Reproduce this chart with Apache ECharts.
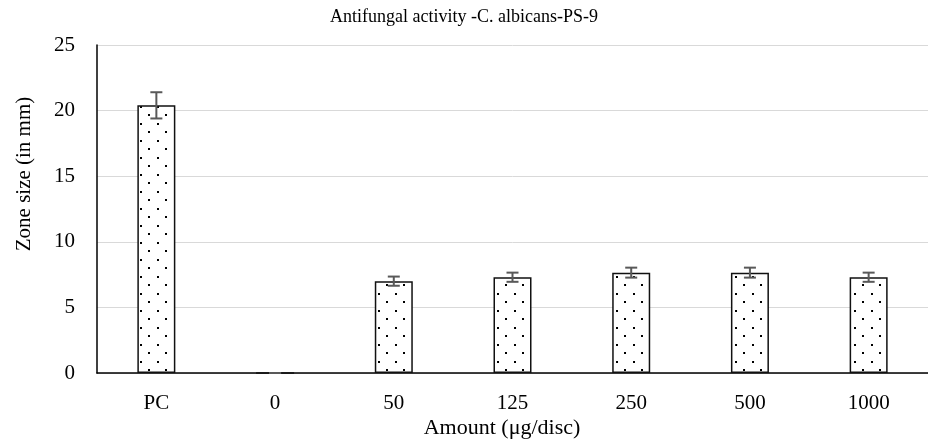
<!DOCTYPE html>
<html>
<head>
<meta charset="utf-8">
<script src="https://cdn.jsdelivr.net/npm/echarts@6/dist/echarts.min.js"></script>
<style>
html,body{margin:0;padding:0;background:#fff;}
#main{width:928px;height:443px;}
</style>
</head>
<body>
<div id="main"></div>
<script>
// 数据
var categories = ['PC', '0', '50', '125', '250', '500', '1000'];
var zoneSize = [20.4, 0, 7.0, 7.3, 7.65, 7.65, 7.3];
var errValue = [1.0, 0, 0.35, 0.35, 0.38, 0.38, 0.35];
var yTicks = [0, 5, 10, 15, 20, 25];

// 点状填充
function makeDots(){
	var c = document.createElement('canvas');
	c.width = 17; c.height = 17;
	var ctx = c.getContext('2d');
	ctx.fillStyle = '#fff';
	ctx.fillRect(0, 0, 17, 17);
	ctx.fillStyle = '#000';
	ctx.fillRect(4, 4, 2, 2);
	ctx.fillRect(12, 12, 2, 2);
	return c;
}

var errData = [];
for (var i = 0; i < categories.length; i++) {
	errData.push([i, zoneSize[i] - errValue[i], zoneSize[i] + errValue[i]]);
}

var myChart = echarts.init(document.getElementById('main'));
var font = '"Liberation Serif", "Times New Roman", serif';
var option = {
	animation: false,
	title: {
		text: 'Antifungal activity -C. albicans-PS-9',
		left: 'center',
		top: 3,
		textStyle: {fontFamily: font, fontSize: 18, fontWeight: 'normal', color: '#000'}
	},
	grid: {left: 97, right: -9, top: 45, bottom: 70},
	xAxis: {
		type: 'category',
		data: categories,
		axisLine: {lineStyle: {color: '#000', width: 1.5}},
		axisTick: {show: false},
		axisLabel: {fontFamily: font, fontSize: 21, color: '#000', margin: 20}
	},
	yAxis: {
		type: 'value',
		min: yTicks[0],
		max: yTicks[yTicks.length - 1],
		interval: 5,
		axisLine: {show: true, lineStyle: {color: '#000', width: 1.5}},
		axisTick: {show: false},
		axisLabel: {fontFamily: font, fontSize: 21, color: '#000', margin: 22},
		splitLine: {lineStyle: {color: '#d9d9d9', width: 1}}
	},
	graphic: [
		{
			type: 'text',
			x: 502,
			y: 428,
			style: {text: 'Amount (μg/disc)', font: '22px ' + font, fill: '#000', align: 'center', verticalAlign: 'middle'}
		},
		{
			type: 'text',
			x: 24,
			y: 174,
			rotation: Math.PI / 2,
			style: {text: 'Zone size (in mm)', font: '21px ' + font, fill: '#000', align: 'center', verticalAlign: 'middle'}
		}
	],
	series: [
		{
			type: 'bar',
			data: zoneSize,
			barWidth: 38,
			itemStyle: {
				color: {image: makeDots(), repeat: 'repeat'},
				borderColor: '#111',
				borderWidth: 1.5
			}
		},
		{
			type: 'custom',
			data: errData,
			z: 10,
			renderItem: function (params, api) {
				var lo = api.coord([api.value(0), api.value(1)]);
				var hi = api.coord([api.value(0), api.value(2)]);
				var hw = 6;
				var st = {stroke: '#595959', lineWidth: 2};
				return {
					type: 'group',
					children: [
						{type: 'line', shape: {x1: hi[0], y1: hi[1], x2: lo[0], y2: lo[1]}, style: st},
						{type: 'line', shape: {x1: hi[0] - hw, y1: hi[1], x2: hi[0] + hw, y2: hi[1]}, style: st},
						{type: 'line', shape: {x1: lo[0] - hw, y1: lo[1], x2: lo[0] + hw, y2: lo[1]}, style: st}
					]
				};
			}
		}
	]
};
myChart.setOption(option);
</script>
</body>
</html>
